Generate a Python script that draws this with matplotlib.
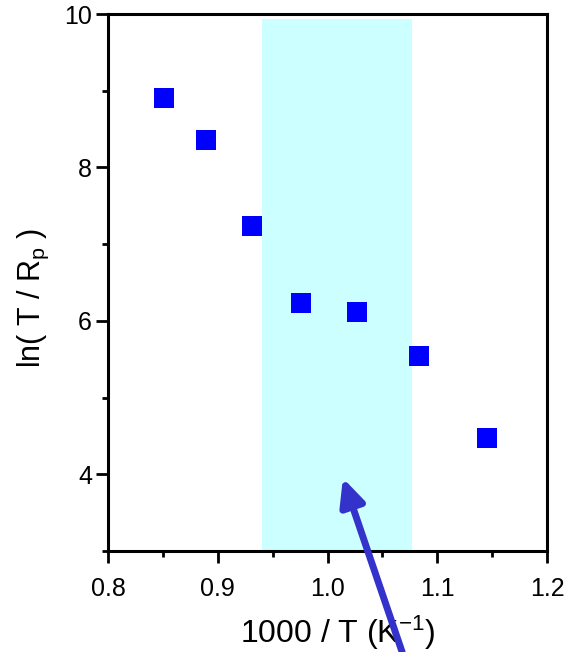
import matplotlib
matplotlib.use('Agg')
import matplotlib.pyplot as plt
from matplotlib.ticker import MultipleLocator

# data
inv_temp = [0.851, 0.889, 0.931, 0.976, 1.027, 1.083, 1.145]
ln_t_rp = [8.90, 8.36, 7.24, 6.23, 6.12, 5.54, 4.47]

band_x = (0.940, 1.077)
band_top = 9.94

arrow_tip = (1.014, 3.95)
arrow_tail = (1.068, 1.68)

plt.rcParams['font.family'] = ['Liberation Sans', 'DejaVu Sans']
plt.rcParams['mathtext.fontset'] = 'custom'
plt.rcParams['mathtext.rm'] = 'Liberation Sans'
plt.rcParams['mathtext.it'] = 'Liberation Sans'

fig = plt.figure(figsize=(5.64, 6.52), dpi=100)
ax = fig.add_axes([0.1915, 0.155, 0.7785, 0.8235])

ax.fill_between(band_x, 3, band_top, color='#ccffff', lw=0, zorder=0)

ax.plot(inv_temp, ln_t_rp, 's', color='#0000ff', markersize=13.7,
        markeredgewidth=0, zorder=3)

ax.annotate('', xy=arrow_tip, xytext=arrow_tail, annotation_clip=False,
            arrowprops=dict(arrowstyle='-|>,head_length=1.6,head_width=0.75',
                            color='#3333cc', lw=5, shrinkA=0, shrinkB=0),
            zorder=4)

ax.set_xlim(0.8, 1.2)
ax.set_ylim(3, 10)
ax.xaxis.set_minor_locator(MultipleLocator(0.05))
ax.yaxis.set_minor_locator(MultipleLocator(1))
ax.set_xticks([0.8, 0.9, 1.0, 1.1, 1.2])
ax.set_xticklabels(['0.8', '0.9', '1.0', '1.1', '1.2'])
ax.set_yticks([4, 6, 8, 10])

for s in ax.spines.values():
    s.set_linewidth(2.2)
ax.tick_params(which='major', length=8.5, width=2, labelsize=18)
ax.tick_params(which='minor', length=4, width=2)
ax.tick_params(axis='x', which='major', pad=10)
ax.tick_params(axis='y', which='major', pad=3)

ax.set_xlabel('1000 / T (K$^{-1}$)', fontsize=23)
ax.set_ylabel('ln( T / R$_{p}$ )', fontsize=22)
ax.xaxis.set_label_coords(0.524, -0.116)
ax.yaxis.set_label_coords(-0.13, 0.471)

fig.savefig('out.png', dpi=100)
